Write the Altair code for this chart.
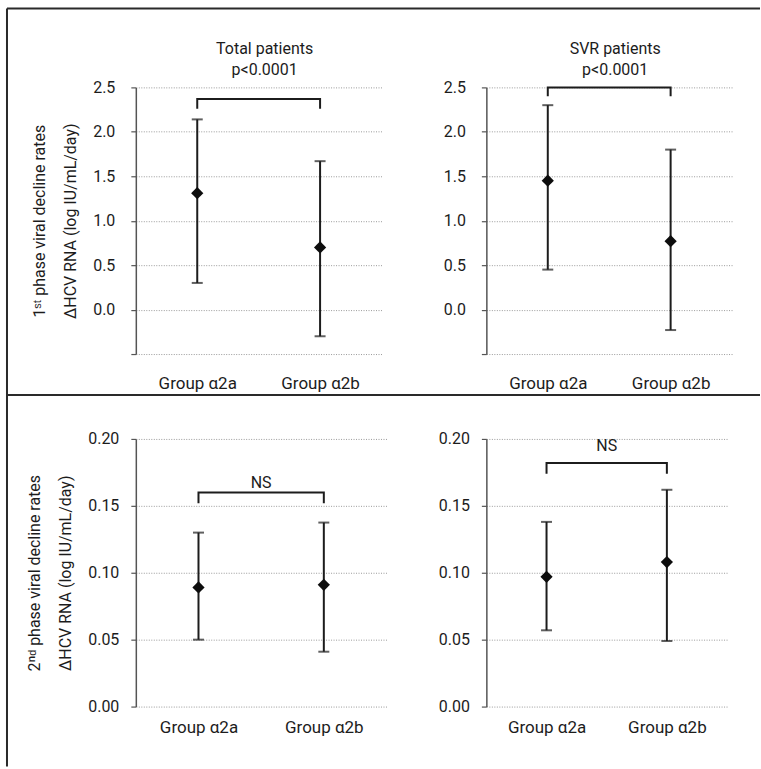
import altair as alt
import pandas as pd

FONT = "Roboto, Liberation Sans, sans-serif"
INK = "#1c1c1c"

groups = ["Group α2a", "Group α2b"]
group_pos = [0, 1]

# Top-left: Total patients, 1st phase
tl_mean = [1.31, 0.70]
tl_low = [0.30, -0.30]
tl_high = [2.14, 1.67]
tl_bracket = [2.26, 2.37]   # drop end, top bar

# Top-right: SVR patients, 1st phase
tr_mean = [1.45, 0.77]
tr_low = [0.45, -0.23]
tr_high = [2.30, 1.80]
tr_bracket = [2.40, 2.50]

# Bottom-left: Total patients, 2nd phase
bl_mean = [0.089, 0.091]
bl_low = [0.050, 0.041]
bl_high = [0.130, 0.1375]
bl_bracket = [0.152, 0.160]
bl_ns_y = 0.163

# Bottom-right: SVR patients, 2nd phase
br_mean = [0.097, 0.108]
br_low = [0.057, 0.049]
br_high = [0.138, 0.162]
br_bracket = [0.174, 0.182]
br_ns_y = 0.191

top_ticks = [-0.5, 0.0, 0.5, 1.0, 1.5, 2.0, 2.5]
bottom_ticks = [0.0, 0.05, 0.10, 0.15, 0.20]

top_titles = [["Total patients", "p<0.0001"], ["SVR patients", "p<0.0001"]]
ytitle_top = ["1ˢᵗ phase viral decline rates", "ΔHCV RNA (log IU/mL/day)"]
ytitle_bottom = ["2ⁿᵈ phase viral decline rates", "ΔHCV RNA (log IU/mL/day)"]
ns_text = "NS"


def panel(means, lows, highs, bracket, domain, ticks, fmt, ytitle, width, height,
          label_pad, hide_below=None, title=None, ns=None, ns_y=None, frame=False):
    df = pd.DataFrame({"pos": group_pos, "group": groups, "mean": means,
                       "low": lows, "high": highs})
    label_expr = "[" + ",".join("'%s'" % g for g in groups) + "][datum.value]"
    xenc = alt.X("pos:Q", scale=alt.Scale(domain=[-0.5, 1.5], nice=False, zero=False),
                 axis=alt.Axis(values=group_pos, labelExpr=label_expr, title=None,
                               ticks=False, domain=False, grid=False, labelFont=FONT,
                               labelFontSize=17, labelColor=INK,
                               labelPadding=22 if hide_below is not None else 13,
                               labelAngle=0))
    if hide_below is not None:
        lab = "datum.value < %s ? '' : format(datum.value, '%s')" % (hide_below, fmt)
    else:
        lab = "format(datum.value, '%s')" % fmt
    axis_kw = dict(values=ticks, labelExpr=lab, grid=True, gridDash=[1, 1.5],
                   gridColor="#9a9a9a", gridWidth=1, tickSize=5, tickColor="#555",
                   tickWidth=1.2, domainColor="#555", domainWidth=1.5,
                   labelFont=FONT, labelFontSize=16, labelColor=INK,
                   labelPadding=label_pad)
    if ytitle is not None:
        axis_kw.update(title=ytitle, titleFont=FONT, titleFontSize=16,
                       titleFontWeight="normal", titleColor=INK, titleLineHeight=31,
                       titlePadding=14)
    else:
        axis_kw.update(title=None)
    yscale = alt.Scale(domain=domain, nice=False, zero=False)

    def Y(field):
        return alt.Y(field, scale=yscale, axis=alt.Axis(**axis_kw))

    base = alt.Chart(df)
    rule = base.mark_rule(color=INK, strokeWidth=2).encode(x=xenc, y=Y("low:Q"), y2="high:Q")
    cap_lo = base.mark_tick(color=INK, size=11, thickness=2, orient="horizontal").encode(
        x=xenc, y=Y("low:Q"))
    cap_hi = base.mark_tick(color=INK, size=11, thickness=2, orient="horizontal").encode(
        x=xenc, y=Y("high:Q"))
    pts = base.mark_point(shape="diamond", filled=True, size=150, color="#0d0d0d",
                          opacity=1).encode(x=xenc, y=Y("mean:Q"))

    bdf = pd.DataFrame({"pos": [group_pos[0], group_pos[0], group_pos[1], group_pos[1]],
                        "val": [bracket[0], bracket[1], bracket[1], bracket[0]],
                        "o": [0, 1, 2, 3]})
    br = alt.Chart(bdf).mark_line(color=INK, strokeWidth=2).encode(
        x=xenc, y=Y("val:Q"), order="o:Q")
    layers = [rule, cap_lo, cap_hi, pts, br]

    if ns is not None:
        ndf = pd.DataFrame({"pos": [sum(group_pos) / 2], "val": [ns_y], "t": [ns]})
        layers.append(alt.Chart(ndf).mark_text(font=FONT, fontSize=16, color=INK,
                                               baseline="alphabetic").encode(
            x=xenc, y=Y("val:Q"), text="t:N"))

    if frame:
        # decorative frame: top border, left border and the row divider
        fdf = pd.DataFrame({"d": [0]})
        fr = alt.Chart(fdf).mark_rule(color="#2a2a2a", strokeWidth=2)
        layers.append(fr.encode(x=alt.value(-129), x2=alt.value(625), y=alt.value(-431)))
        layers.append(fr.encode(x=alt.value(-129), y=alt.value(-431), y2=alt.value(328)))
        layers.append(fr.encode(x=alt.value(-129), x2=alt.value(625), y=alt.value(-44)))

    ch = alt.layer(*layers).properties(width=width, height=height)
    if title is not None:
        ch = ch.properties(title=alt.Title(text=title, font=FONT, fontSize=16,
                                           fontWeight="normal", color=INK, lineHeight=21,
                                           offset=1, anchor="middle", dx=6))
    return ch


tl = panel(tl_mean, tl_low, tl_high, tl_bracket, [-0.5, 2.5], top_ticks, ".1f",
           ytitle_top, 246, 267, 16, hide_below=-0.4, title=top_titles[0])
tr = panel(tr_mean, tr_low, tr_high, tr_bracket, [-0.5, 2.5], top_ticks, ".1f",
           None, 246, 267, 16, hide_below=-0.4, title=top_titles[1])
bl = panel(bl_mean, bl_low, bl_high, bl_bracket, [0, 0.2], bottom_ticks, ".2f",
           ytitle_bottom, 251, 268, 12, ns=ns_text, ns_y=bl_ns_y, frame=True)
brc = panel(br_mean, br_low, br_high, br_bracket, [0, 0.2], bottom_ticks, ".2f",
            None, 241, 268, 12, ns=ns_text, ns_y=br_ns_y)

chart = alt.concat(tl, tr, bl, brc, columns=2, spacing={"row": 85, "column": 100},
                   align="none", bounds="flush").properties(
    padding={"left": 6, "top": 7, "right": 0, "bottom": 2},
    background="white",
).configure_view(stroke=None)

chart.save("out.html", embed_options={"renderer": "svg", "actions": False})
